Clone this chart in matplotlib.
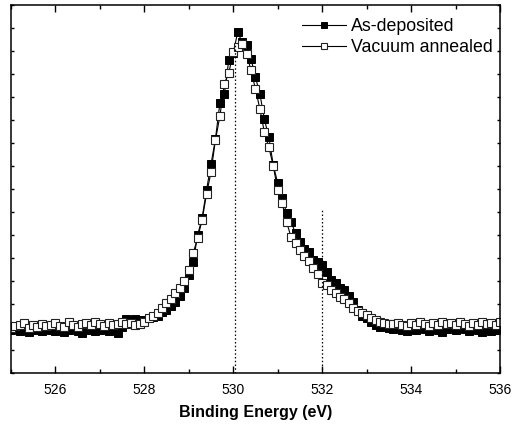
import numpy as np
import matplotlib
matplotlib.use("Agg")
import matplotlib.pyplot as plt
from matplotlib.ticker import MultipleLocator

plt.rcParams['font.family'] = ['Liberation Sans', 'DejaVu Sans']

# Binding energy scan (eV), 0.1 eV steps
energy = np.round(np.arange(525.0, 536.05, 0.1), 1)

# O 1s intensity (arb. units)
as_deposited = [
    43, 44, 42, 45, 41, 44, 43, 42, 45, 43,
    42, 44, 41, 43, 45, 42, 40, 43, 44, 42,
    43, 45, 42, 44, 40, 46, 54, 52, 54, 53,
    53, 55, 56, 57, 61, 63, 67, 71, 77, 85,
    98, 111, 138, 155, 183, 209, 234, 270, 279, 313,
    320, 341, 331, 328, 314, 296, 279, 254, 236, 208,
    190, 175, 160, 151, 140, 131, 124, 121, 113, 111,
    108, 101, 93, 90, 85, 83, 77, 71, 63, 57,
    55, 51, 48, 46, 47, 45, 44, 46, 43, 42,
    45, 43, 46, 44, 42, 45, 43, 41, 44, 45,
    43, 46, 44, 42, 45, 43, 41, 44, 42, 43,
    45,
]
vacuum_annealed = [
    45, 47, 48, 50, 45, 48, 46, 49, 47, 48,
    50, 47, 46, 51, 48, 46, 49, 50, 48, 51,
    49, 47, 50, 48, 49, 51, 49, 50, 48, 49,
    51, 55, 57, 60, 65, 70, 74, 80, 85, 92,
    103, 120, 135, 153, 179, 201, 233, 257, 289, 300,
    321, 326, 329, 319, 303, 284, 264, 241, 226, 207,
    183, 170, 151, 136, 130, 123, 117, 112, 105, 99,
    90, 88, 83, 80, 76, 74, 70, 65, 62, 60,
    58, 55, 53, 51, 50, 49, 49, 50, 48, 47,
    50, 48, 51, 49, 47, 50, 48, 51, 49, 50,
    48, 51, 49, 47, 50, 48, 51, 49, 50, 48,
    51,
]

# dotted guide lines: position (eV) and top (arb. units)
guide_pos = [530.04, 532.0]
guide_top = [328, 163]

fig = plt.figure(figsize=(5.13, 4.34), dpi=100)
ax = fig.add_axes([0.021, 0.1406, 0.954, 0.8474])

ax.plot(energy, as_deposited, '-s', color='black', lw=0.8,
        ms=5.5, mfc='black', mec='black', mew=0.7, label='As-deposited')
ax.plot(energy, vacuum_annealed, '-s', color='black', lw=0.8,
        ms=5.5, mfc='white', mec='#222222', mew=0.8, label='Vacuum annealed')

for xp, yt in zip(guide_pos, guide_top):
    ax.vlines(xp, 0, yt, colors='black', linestyles=(0, (1.2, 1.8)), lw=0.9)

ax.set_xlim(525, 536)
ax.set_ylim(0, 368)
ax.xaxis.set_major_locator(MultipleLocator(2))
ax.xaxis.set_minor_locator(MultipleLocator(1))
ax.yaxis.set_major_locator(MultipleLocator(23))
ax.set_yticklabels([])

ax.tick_params(axis='x', which='major', direction='in', length=5, width=1,
               top=True, labelsize=10, pad=7)
ax.tick_params(axis='x', which='minor', direction='in', length=3, width=1, top=True)
ax.tick_params(axis='y', which='major', direction='in', length=2.5, width=1, right=True)
for s in ax.spines.values():
    s.set_linewidth(1.1)

ax.set_xlabel('Binding Energy (eV)', fontsize=11.5, fontweight='bold', labelpad=6)

ax.legend(loc='upper right', bbox_to_anchor=(1.0, 0.984), frameon=False,
          fontsize=12.8, handlelength=2.5, handletextpad=0.3, labelspacing=0.2,
          borderaxespad=0.2, borderpad=0.2, numpoints=1, markerscale=0.7)

fig.savefig('out.png', dpi=100)
